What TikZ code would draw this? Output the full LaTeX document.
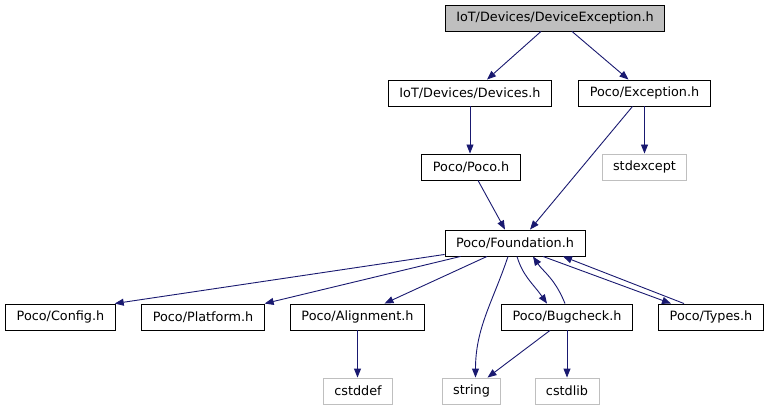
\documentclass[tikz,border=0pt]{standalone}
\usepackage{fontspec}
\setmainfont{DejaVu Sans}
\usepackage{xcolor}
\usetikzlibrary{arrows.meta}

\definecolor{navy}{HTML}{191970}

\begin{document}
\begin{tikzpicture}[
        x=1pt, y=-1pt,
        >={Triangle[length=9pt, width=7pt]}, % Arrowhead style
        file/.style={rectangle, draw=black, line width=0.9pt, minimum height=26pt, inner xsep=11pt, font=\fontsize{12.8}{15}\selectfont},
        current/.style={file, fill=gray!50},
        sysfile/.style={file, draw=gray!50},
        dep/.style={->, draw=navy, line width=0.9pt}
    ]
    \useasboundingbox (0,0) rectangle (770,411);

    % ==========================================
    % 1. HEADERS
    % ==========================================
    \node[current] (devexc) at (555, 18) {IoT/Devices/DeviceException.h};
    \node[file] (devices)   at (470, 93) {IoT/Devices/Devices.h};
    \node[file] (exc)       at (644.5, 93) {Poco/Exception.h};
    \node[file] (poco)      at (471, 167) {Poco/Poco.h};
    \node[file] (found)     at (515, 243) {Poco/Foundation.h};

    \node[file] (config)    at (60.5, 317) {Poco/Config.h};
    \node[file] (platform)  at (203, 317) {Poco/Platform.h};
    \node[file] (align)     at (357.5, 317) {Poco/Alignment.h};
    \node[file] (bugcheck)  at (567, 317) {Poco/Bugcheck.h};
    \node[file] (types)     at (711, 317) {Poco/Types.h};

    % ==========================================
    % 2. SYSTEM HEADERS
    % ==========================================
    \node[sysfile] (stdexcept) at (644.5, 167) {stdexcept};
    \node[sysfile] (cstddef)   at (358, 391) {cstddef};
    \node[sysfile] (string)    at (471.5, 391) {string};
    \node[sysfile] (cstdlib)   at (567, 391) {cstdlib};

    % ==========================================
    % 3. INCLUDES
    % ==========================================
    \draw[dep] ([xshift=-14pt]devexc.south) -- ([xshift=17pt]devices.north);
    \draw[dep] ([xshift=17pt]devexc.south) -- ([xshift=-16pt]exc.north);
    \draw[dep] (devices.south) -- (devices.south |- poco.north);
    \draw[dep] (exc.south) -- (exc.south |- stdexcept.north);
    \draw[dep] ([xshift=-12pt]exc.south) -- ([xshift=15pt]found.north);
    \draw[dep] ([xshift=7pt]poco.south) -- ([xshift=-10pt]found.north);

    % Foundation.h
    \draw[dep] ([yshift=2pt]found.south west) -- ([xshift=-1pt]config.north east);
    \draw[dep] ([xshift=16pt]found.south west) -- (platform.north east);
    \draw[dep] ([xshift=-28pt]found.south) -- ([xshift=27pt]align.north);
    \draw[dep] ([xshift=-7pt]found.south) .. controls +(-15,45) and +(0,-50) .. ([xshift=4pt]string.north);
    \draw[dep] ([xshift=2pt]found.south) .. controls +(6,20) and +(-14,-20) .. ([xshift=-20pt]bugcheck.north);
    \draw[dep] ([xshift=-2pt]bugcheck.north) .. controls +(-10,-25) and +(10,15) .. ([xshift=18pt]found.south);
    \draw[dep] ([xshift=28pt]found.south) -- ([xshift=-40pt]types.north);
    \draw[dep] ([xshift=-27pt]types.north) -- ([xshift=48pt]found.south);

    % second row
    \draw[dep] (align.south) -- (align.south |- cstddef.north);
    \draw[dep] ([xshift=-17pt]bugcheck.south) -- ([xshift=16pt]string.north);
    \draw[dep] (bugcheck.south) -- (cstdlib.north);

    \end{tikzpicture}
\end{document}
